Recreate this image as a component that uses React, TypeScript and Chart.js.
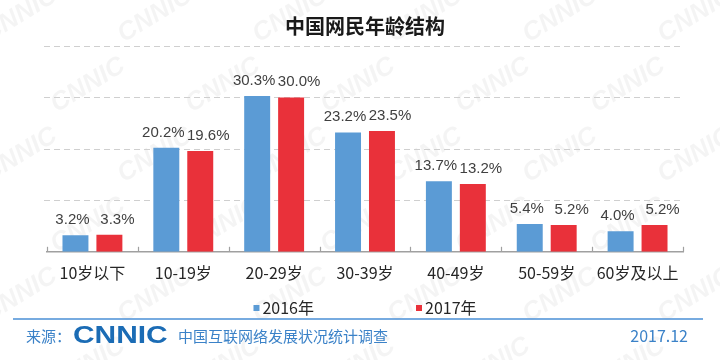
import React, { useEffect, useRef } from "react";
import { Chart, registerables } from "chart.js";

Chart.register(...registerables);

const categories = ["10岁以下", "10-19岁", "20-29岁", "30-39岁", "40-49岁", "50-59岁", "60岁及以上"];
const series2016 = [3.2, 20.2, 30.3, 23.2, 13.7, 5.4, 4.0];
const series2017 = [3.3, 19.6, 30.0, 23.5, 13.2, 5.2, 5.2];
const seriesNames = ["2016年", "2017年"];
const chartTitle = "中国网民年龄结构";
const sourceLabel = "来源：";
const sourceLogo = "CNNIC";
const sourceText = "中国互联网络发展状况统计调查";
const dateText = "2017.12";
const watermarkText = "CNNIC";
const yMax = 40;
const yStep = 10;

const CJK = '"Noto Sans CJK SC", "Noto Sans", sans-serif';
const LATIN = '"Liberation Sans", Arial, sans-serif';
const BLUE = "#5B9BD5";
const RED = "#E9313A";
const LABEL_SHIFT = [-3, 8];

const backgroundPlugin = {
  id: "bgWatermark",
  beforeDraw(chart: any) {
    const { ctx, width, height } = chart;
    ctx.save();
    ctx.fillStyle = "#ffffff";
    ctx.fillRect(0, 0, width, height);
    ctx.fillStyle = "rgba(0,0,0,0.045)";
    ctx.font = `italic bold 26px ${LATIN}`;
    ctx.textAlign = "center";
    ctx.textBaseline = "middle";
    for (let row = 0; row < 6; row++) {
      for (let col = 0; col < 7; col++) {
        const x = col * 135 + (row % 2 ? 68 : 0) + 20;
        const y = row * 70 + 15;
        ctx.save();
        ctx.translate(x, y);
        ctx.rotate(-0.55);
        ctx.fillText(watermarkText, 0, 0);
        ctx.restore();
      }
    }
    ctx.restore();
  },
};

const gridPlugin = {
  id: "dashedGrid",
  beforeDatasetsDraw(chart: any) {
    const { ctx, chartArea } = chart;
    const ys = chart.scales.y;
    ctx.save();
    ctx.strokeStyle = "#CFCFCF";
    ctx.lineWidth = 1;
    ctx.setLineDash([6, 4]);
    ys.ticks.forEach((t: any) => {
      if (t.value === 0) return;
      const y = Math.round(ys.getPixelForValue(t.value)) + 0.5;
      ctx.beginPath();
      ctx.moveTo(chartArea.left - 3, y);
      ctx.lineTo(chartArea.right, y);
      ctx.stroke();
    });
    ctx.restore();
  },
};

const valueLabelPlugin = {
  id: "valueLabels",
  afterDatasetsDraw(chart: any) {
    const { ctx } = chart;
    ctx.save();
    ctx.font = `15px ${LATIN}`;
    ctx.fillStyle = "#404040";
    ctx.textAlign = "center";
    ctx.textBaseline = "alphabetic";
    chart.data.datasets.forEach((ds: any, di: number) => {
      const meta = chart.getDatasetMeta(di);
      meta.data.forEach((el: any, i: number) => {
        ctx.fillText(ds.data[i].toFixed(1) + "%", el.x + LABEL_SHIFT[di], el.y - 11);
      });
    });
    ctx.restore();
  },
};

const innerTicksPlugin = {
  id: "innerTicks",
  afterDraw(chart: any) {
    const { ctx } = chart;
    const xs = chart.scales.x;
    const n = chart.data.labels.length;
    ctx.save();
    ctx.strokeStyle = "#A0A0A0";
    ctx.lineWidth = 1.2;
    for (let i = 0; i <= n; i++) {
      const x = Math.round(xs.left + (i * xs.width) / n) + 0.5;
      ctx.beginPath();
      ctx.moveTo(x, xs.top - 5);
      ctx.lineTo(x, xs.top);
      ctx.stroke();
    }
    ctx.restore();
  },
};

const legendFooterPlugin = {
  id: "legendFooter",
  afterDraw(chart: any) {
    const { ctx, chartArea } = chart;
    ctx.save();
    ctx.font = `16px ${CJK}`;
    ctx.textBaseline = "middle";
    ctx.textAlign = "left";
    const ds = chart.data.datasets;
    const box = 6;
    const gap = 102;
    const widths = ds.map((d: any) => box + 3 + ctx.measureText(d.label).width);
    const total = widths.reduce((a: number, b: number) => a + b, 0) + gap * (ds.length - 1);
    let x = (chartArea.left + chartArea.right) / 2 - total / 2;
    const ly = 308;
    ds.forEach((d: any, i: number) => {
      ctx.fillStyle = d.backgroundColor;
      ctx.fillRect(x, ly - box / 2, box, box);
      ctx.fillStyle = "#262626";
      ctx.fillText(d.label, x + box + 3, ly);
      x += widths[i] + gap;
    });

    ctx.strokeStyle = "#4A8FD6";
    ctx.lineWidth = 1.5;
    ctx.beginPath();
    ctx.moveTo(13, 319);
    ctx.lineTo(703, 319);
    ctx.stroke();

    const fy = 336;
    ctx.fillStyle = "#3B82C8";
    ctx.font = `15px ${CJK}`;
    ctx.fillText(sourceLabel, 26, fy);

    ctx.save();
    ctx.fillStyle = "#1B6CB5";
    ctx.font = `bold 23px ${LATIN}`;
    ctx.translate(73, fy + 1);
    ctx.scale(1.3, 1);
    ctx.fillText(sourceLogo, 0, 0);
    ctx.restore();

    ctx.fillStyle = "#3B82C8";
    ctx.font = `15px ${CJK}`;
    ctx.fillText(sourceText, 178, fy);

    ctx.textAlign = "right";
    ctx.font = `16px ${CJK}`;
    ctx.fillText(dateText, 688, fy);
    ctx.restore();
  },
};

export default function App() {
  const ref = useRef<HTMLCanvasElement | null>(null);

  useEffect(() => {
    if (!ref.current) return;
    const chart = new Chart(ref.current, {
      type: "bar",
      data: {
        labels: categories,
        datasets: [
          {
            label: seriesNames[0],
            data: series2016,
            backgroundColor: BLUE,
            categoryPercentage: 0.747,
            barPercentage: 0.765,
          },
          {
            label: seriesNames[1],
            data: series2017,
            backgroundColor: RED,
            categoryPercentage: 0.747,
            barPercentage: 0.765,
          },
        ],
      },
      options: {
        responsive: false,
        animation: false,
        devicePixelRatio: 1,
        layout: { padding: { left: 47, right: 37, top: 0, bottom: 65 } },
        plugins: {
          legend: { display: false },
          tooltip: { enabled: false },
          title: {
            display: true,
            text: chartTitle,
            color: "#1a1a1a",
            font: { family: CJK, size: 20, weight: "bold" },
            padding: { top: 14, bottom: 8 },
          },
        },
        scales: {
          x: {
            offset: true,
            grid: { display: true, drawOnChartArea: false, drawTicks: false },
            border: { display: true, color: "#A0A0A0", width: 1.5 },
            ticks: {
              color: "#262626",
              padding: 12,
              font: { family: CJK, size: 16 },
              maxRotation: 0,
              autoSkip: false,
            },
          },
          y: {
            min: 0,
            max: yMax,
            ticks: { display: false, stepSize: yStep },
            border: { display: false },
            grid: { display: false, drawTicks: false },
          },
        },
      },
      plugins: [backgroundPlugin, gridPlugin, valueLabelPlugin, innerTicksPlugin, legendFooterPlugin],
    });
    return () => chart.destroy();
  }, []);

  return (
    <div style={{ position: "fixed", left: 0, top: 0, width: 720, height: 360, background: "#fff" }}>
      <canvas ref={ref} width={720} height={360} />
    </div>
  );
}
